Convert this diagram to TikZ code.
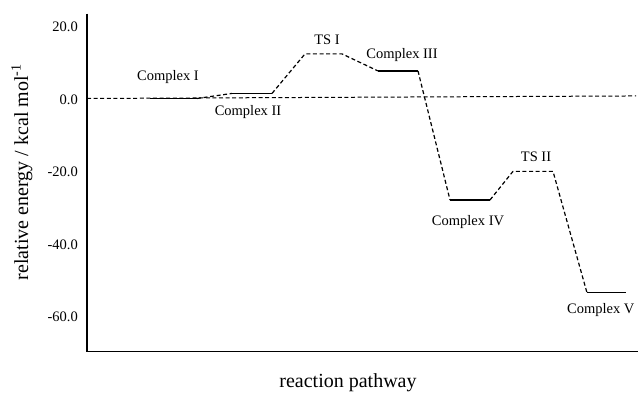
\documentclass[tikz,border=0pt]{standalone}
\usepackage{fontspec}
\setmainfont{Liberation Serif}
\usepackage{tikz}

\begin{document}
\begin{tikzpicture}[
		x=1pt, y=3.625pt,
		level/.style={line width=1.2pt},
		link/.style={line width=1.2pt, dash pattern=on 4pt off 2.6pt},
		lbl/.style={font=\fontsize{14.5}{16}\selectfont, inner sep=0pt},
		ticklbl/.style={font=\fontsize{14.5}{16}\selectfont, inner sep=0pt, anchor=east},
		axlbl/.style={font=\fontsize{20}{22}\selectfont, inner sep=0pt}
	]
		\useasboundingbox (0,-80.97) rectangle (638,27.17);
		% axes
		\draw[line width=1.2pt] (87,23.4) -- (87,-69.9) -- (638,-69.9);
		\foreach \e in {20,0,-20,-40,-60}
			\node[ticklbl] (t\e) at (78,\e-0.3) {\e.0};
		\node[axlbl] (xlab) at (348,-78.5) {reaction pathway};
		\node[axlbl, rotate=90] (ylab) at (22,-20.3) {relative energy / kcal mol\textsuperscript{-1}};
		% reference level
		\draw[link, line width=1pt] (87,0) -- (636,0.7);
		% energy levels
		\coordinate (c1l) at (150,0);   \coordinate (c1r) at (197,0);
		\coordinate (c2l) at (232,1.4); \coordinate (c2r) at (272,1.4);
		\coordinate (ts1l) at (305,12.3); \coordinate (ts1r) at (342,12.3);
		\coordinate (c3l) at (378,7.6); \coordinate (c3r) at (418,7.6);
		\coordinate (c4l) at (450,-28); \coordinate (c4r) at (490,-28);
		\coordinate (ts2l) at (513,-20.1); \coordinate (ts2r) at (553,-20.1);
		\coordinate (c5l) at (587,-53.6); \coordinate (c5r) at (626,-53.6);
		\draw[level] (c1l) -- (c1r);
		\draw[level] (c2l) -- (c2r);
		\draw[level] (c3l) -- (c3r);
		\draw[level] (c4l) -- (c4r);
		\draw[level] (c5l) -- (c5r);
		\draw[link] (c1r) -- (c2l);
		\draw[link] (c2r) -- (ts1l) -- (ts1r) -- (c3l);
		\draw[link] (c3r) -- (c4l);
		\draw[link] (c4r) -- (ts2l) -- (ts2r) -- (c5l);
		% labels
		\node[lbl] (n1) at (168,5.9) {Complex I};
		\node[lbl] (n2) at (248,-3.7) {Complex II};
		\node[lbl] (n3) at (327,16.1) {TS I};
		\node[lbl] (n4) at (402,12.0) {Complex III};
		\node[lbl] (n5) at (468,-34.1) {Complex IV};
		\node[lbl] (n6) at (536,-16.1) {TS II};
		\node[lbl, anchor=west] (n7) at (567,-58.3) {Complex V};
	\end{tikzpicture}
\end{document}
